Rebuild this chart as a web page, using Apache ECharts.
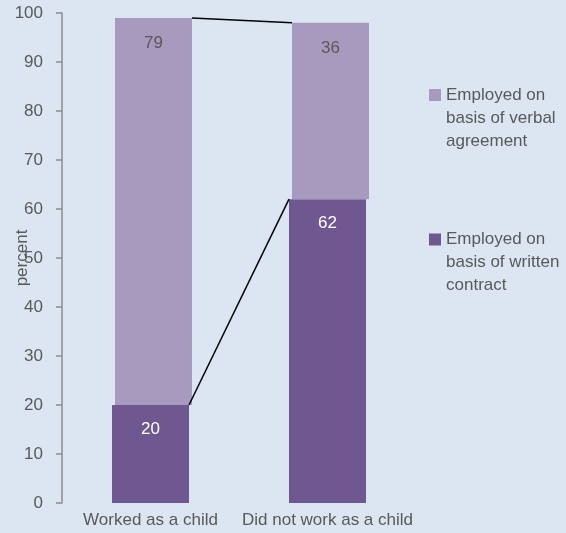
<!DOCTYPE html>
<html>
<head>
<meta charset="utf-8">
<script src="https://cdn.jsdelivr.net/npm/echarts@6/dist/echarts.min.js"></script>
<style>html,body{margin:0;padding:0;background:#dce6f2;}#c{width:566px;height:533px;}</style>
</head>
<body>
<div id="c"></div>
<script>
var categories = ['Worked as a child', 'Did not work as a child'];
var written = [20, 62];
var verbal = [79, 36];
var seriesNames = ['Employed on basis of verbal agreement', 'Employed on basis of written contract'];
var legendText = {
  'Employed on basis of verbal agreement': 'Employed on\nbasis of verbal\nagreement',
  'Employed on basis of written contract': 'Employed on\nbasis of written\ncontract'
};
var yTicks = [0, 10, 20, 30, 40, 50, 60, 70, 80, 90, 100];

var dark = '#6f578f', light = '#a89abf', txt = '#595959';
var FONT = 'Liberation Sans, Arial, sans-serif';
var BW = 77, SHIFT = 3;

var totals = written.map(function (w, i) { return w + verbal[i]; });
// [category index of left bar, left value, right value, horizontal shift]
var connectors = [[0, written[0], written[1], 0], [0, totals[0], totals[1], SHIFT]];

function legendCfg(name, top) {
  return { data: [name], left: 429, top: top, padding: 0, orient: 'vertical',
    itemWidth: 12, itemHeight: 12, itemGap: 5, icon: 'rect',
    formatter: function (n) { return '\n\n' + legendText[n]; },
    textStyle: { color: txt, fontSize: 17, lineHeight: 23, fontFamily: FONT } };
}

var chart = echarts.init(document.getElementById('c'));
chart.setOption({
  backgroundColor: '#dce6f2',
  animation: false,
  textStyle: { fontFamily: FONT },
  grid: [
    { left: 62, top: 13, width: 354, height: 490, containLabel: false, outerBoundsMode: 'none' },
    { left: 62 + SHIFT, top: 13, width: 354, height: 490, containLabel: false, outerBoundsMode: 'none' }
  ],
  xAxis: [
    { gridIndex: 0, type: 'category', data: categories,
      axisLine: { show: false }, axisTick: { show: false },
      axisLabel: { color: txt, fontSize: 17, margin: 9, interval: 0, fontFamily: FONT } },
    { gridIndex: 1, type: 'category', data: categories, show: false }
  ],
  yAxis: [
    { gridIndex: 0, type: 'value', min: yTicks[0], max: yTicks[yTicks.length - 1], interval: 10,
      name: 'percent', nameLocation: 'middle', nameGap: 31, nameRotate: 90, nameMoveOverlap: false,
      nameTextStyle: { color: txt, fontSize: 17, fontFamily: FONT },
      axisLine: { show: true, lineStyle: { color: '#8c8c8c', width: 1.5 } },
      axisTick: { show: true, length: 6, lineStyle: { color: '#8c8c8c', width: 1.5 } },
      axisLabel: { color: txt, fontSize: 17, margin: 19, fontFamily: FONT },
      splitLine: { show: false } },
    { gridIndex: 1, type: 'value', min: 0, max: 100, show: false, splitLine: { show: false } }
  ],
  legend: [ legendCfg(seriesNames[0], 37.5), legendCfg(seriesNames[1], 182) ],
  series: [
    { name: seriesNames[1], type: 'bar', xAxisIndex: 0, yAxisIndex: 0, data: written,
      barWidth: BW, itemStyle: { color: dark },
      label: { show: true, position: 'insideTop', distance: 16, color: '#ffffff', fontSize: 17, fontFamily: FONT } },
    { name: '_base', type: 'bar', xAxisIndex: 1, yAxisIndex: 1, data: written, stack: 's',
      barWidth: BW, itemStyle: { color: 'rgba(0,0,0,0)' }, silent: true, label: { show: false } },
    { name: seriesNames[0], type: 'bar', xAxisIndex: 1, yAxisIndex: 1, data: verbal, stack: 's',
      barWidth: BW, itemStyle: { color: light },
      label: { show: true, position: 'insideTop', distance: 17, color: txt, fontSize: 17, fontFamily: FONT } },
    { type: 'custom', xAxisIndex: 0, yAxisIndex: 0, data: connectors, silent: true, z: 5,
      encode: { x: 0, y: [1, 2] },
      renderItem: function (params, api) {
        var i = api.value(0);
        var a = api.coord([i, api.value(1)]);
        var b = api.coord([i + 1, api.value(2)]);
        var s = api.value(3);
        return { type: 'line',
          shape: { x1: a[0] + BW / 2 + s, y1: a[1], x2: b[0] - BW / 2 + s, y2: b[1] },
          style: { stroke: '#000', lineWidth: 1.5 } };
      } }
  ]
});
</script>
</body>
</html>
